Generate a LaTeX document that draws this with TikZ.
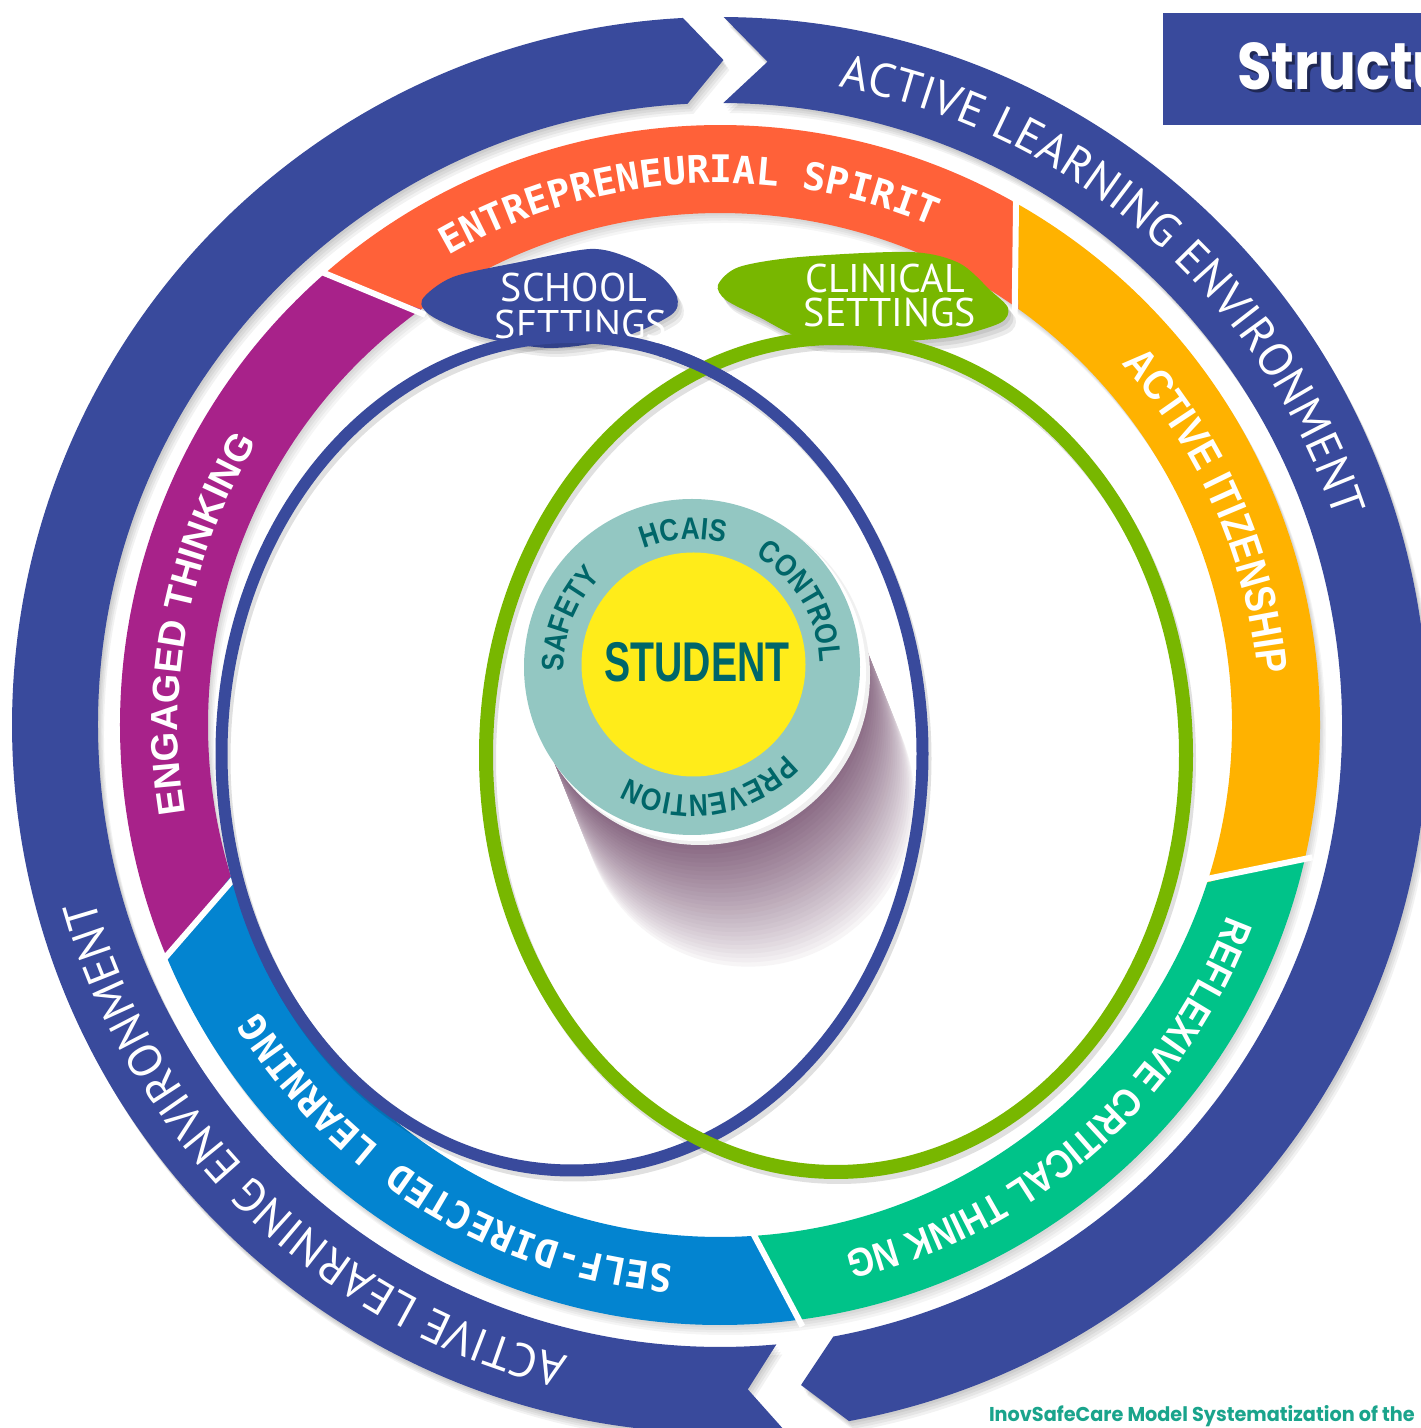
\documentclass[tikz,border=0pt]{standalone}
\usepackage{fontspec}
\setmainfont{PT Sans}
\newfontfamily\ptsans{PT Sans}
\newfontfamily\monob{DejaVu Sans Mono}
\newfontfamily\libsans{Liberation Sans}
\newfontfamily\condb{Liberation Sans}[FakeStretch=0.85]
\newfontfamily\popp{Poppins}
\usetikzlibrary{decorations.text}

\definecolor{ringblue}{HTML}{394A9C}
\definecolor{segorange}{HTML}{FF6139}
\definecolor{segmagenta}{HTML}{A8228A}
\definecolor{segamber}{HTML}{FFB200}
\definecolor{segteal}{HTML}{00C389}
\definecolor{segblue}{HTML}{0384D0}
\definecolor{elgreen}{HTML}{78B700}
\definecolor{diskteal}{HTML}{93C7C2}
\definecolor{diskyellow}{HTML}{FFEC1A}
\definecolor{darkteal}{HTML}{006669}
\definecolor{shadowpurple}{HTML}{6A4263}
\definecolor{footgreen}{HTML}{1AA48C}

\newcommand\LeftPiece{(275.2:708) arc[start angle=275.2,end angle=93,radius=708] -- (89.7:665) -- (93:622) arc[start angle=93,end angle=275.2,radius=622] -- (272.4:665) -- cycle}
\newcommand\RightPiece{(89.7:708) arc[start angle=89.7,end angle=-79.5,radius=708] -- (-83:665) -- (-79.5:622) arc[start angle=-79.5,end angle=89.7,radius=622] -- (85.9:665) -- cycle}
\newcommand\SegPath[4]{(#1:512) -- (#2:600) arc[start angle=#2,end angle=#4,radius=600] -- (#3:512) arc[start angle=#3,end angle=#1,radius=512] -- cycle}
\newcommand\SchoolBlob{plot[smooth cycle] coordinates {(-298,425) (-267,448) (-200,463) (-130,476) (-93,468) (-60,450) (-43,428) (-49,410) (-100,387) (-170,377) (-238,388) (-287,408)}}
\newcommand\ClinicalBlob{plot[smooth cycle] coordinates {(-2,440) (19,458) (80,468) (190,473) (239,462) (270,435) (288,417) (280,402) (231,388) (160,383) (88,385) (39,408) (6,425)}}
\newcommand\BlueEllipse{(-148,-28.75) ellipse[x radius=350.5, y radius=416.75]}
\newcommand\GreenEllipse{(116,-30) ellipse[x radius=350, y radius=417]}

\tikzset{
  ringlabel/.style={decorate, decoration={text along path, text align=center, text color=white, text={#1}}},
  disklabel/.style={decorate, decoration={text along path, text align=center, text color=darkteal, text={#1}}},
  plain/.style={inner sep=0pt, outer sep=0pt},
  softshadow/.style={black, opacity=0.05},
}

\begin{document}
\begin{tikzpicture}[x=1pt,y=1pt]
\useasboundingbox (0,0) rectangle (1421,1428);
\clip (0,0) rectangle (1421,1428);
\fill[white] (0,0) rectangle (1421,1428);

\begin{scope}[shift={(720,703)}]
  % ---- outer blue ring (two clockwise arrows) ----
  \foreach \s in {1,2,3,4}{
    \fill[softshadow, shift={(1.5*\s,-2.5*\s)}] \LeftPiece;
    \fill[softshadow, shift={(1.5*\s,-2.5*\s)}] \RightPiece;
  }
  \fill[ringblue] \LeftPiece;
  \fill[ringblue] \RightPiece;

  % ---- coloured ring ----
  \foreach \s in {1,2,3,4}
    \fill[black, opacity=0.04, even odd rule, shift={(1.5*\s,-2.5*\s)}] (0,0) circle[radius=600] (0,0) circle[radius=512];
  \fill[segorange]  \SegPath{54.3}{60.8}{125.7}{131.5};
  \fill[segmagenta] \SegPath{125.7}{131.5}{197.2}{203};
  \fill[segblue]    \SegPath{197.2}{203}{273.5}{277.8};
  \fill[segteal]    \SegPath{273.5}{277.8}{342.1}{347.4};
  \fill[segamber]   \SegPath{342.1}{347.4}{414.3}{420.8};
  \foreach \a/\b in {54.3/60.8, 125.7/131.5, 197.2/203, 273.5/277.8, 342.1/347.4}
    \draw[white, line width=6] (\a:505) -- (\b:607);

  % ---- ring labels ----
  \path[ringlabel={|\ptsans\fontsize{47}{47}\selectfont|ACTIVE LEARNING ENVIRONMENT}] (99:649) arc[start angle=99,end angle=-1,radius=649];
  \path[ringlabel={|\ptsans\fontsize{47}{47}\selectfont|ACTIVE LEARNING ENVIRONMENT}] (276:649) arc[start angle=276,end angle=176,radius=649];
  \path[ringlabel={|\monob\bfseries\fontsize{38}{38}\selectfont|ENTREPRENEURIAL SPIRIT}] (138.5:542) arc[start angle=138.5,end angle=48.5,radius=542];
  \path[ringlabel={|\libsans\bfseries\fontsize{38}{38}\selectfont|ENGAGED THINKING}] (214:542) arc[start angle=214,end angle=124,radius=542];
  \path[ringlabel={|\condb\bfseries\fontsize{43}{43}\selectfont|ACTIVE ITIZENSHIP}] (68.7:540) arc[start angle=68.7,end angle=-21.3,radius=540];
  \path[ringlabel={|\condb\bfseries\fontsize{40}{40}\selectfont|REFLEXIVE CRITICAL THINK NG}] (-3.6:542) arc[start angle=-3.6,end angle=-93.6,radius=542];
  \path[ringlabel={|\monob\bfseries\fontsize{38}{38}\selectfont|SELF-DIRECTED LEARNING}] (283.5:542) arc[start angle=283.5,end angle=193.5,radius=542];

  % ---- settings blobs ----
  \foreach \s in {1,2,3}{
    \fill[black, opacity=0.07, shift={(2*\s,-3*\s)}] \SchoolBlob;
    \fill[black, opacity=0.08, shift={(2.5*\s,-3.5*\s)}] \ClinicalBlob;
  }
  \fill[ringblue] \SchoolBlob;
  \fill[elgreen] \ClinicalBlob;
  \node[plain, text=white, font=\ptsans\fontsize{40}{40}\selectfont] (school1) at (-146,437) {SCHOOL};
  \node[plain, text=white, font=\ptsans\fontsize{40}{40}\selectfont] (school2) at (-139,400) {SETTINGS};
  \node[plain, text=white, font=\ptsans\fontsize{40}{40}\selectfont] (clin1) at (165,446) {CLINICAL};
  \node[plain, text=white, font=\ptsans\fontsize{40}{40}\selectfont] (clin2) at (170,412) {SETTINGS};

  % ---- disk shadow (purple sweep) ----
  \begin{scope}[shift={(-28,58)}]
    \foreach \i in {30,29,...,0}{
      \pgfmathsetmacro\t{\i/30}
      \pgfmathsetmacro\c{82*(1-\t)^0.8}
      \fill[shadowpurple!\c!white] ({6+52*\t},{-8-130*\t}) circle[radius=166];
    }
  \end{scope}

  % ---- two settings ellipses ----
  \draw[black, opacity=0.12, line width=12, shift={(3,-5)}] \BlueEllipse;
  \draw[black, opacity=0.12, line width=14, shift={(3,-5)}] \GreenEllipse;
  \draw[ringblue, line width=12] \BlueEllipse;
  \draw[elgreen, line width=14] \GreenEllipse;
  \begin{scope}
    \clip (-62,322) rectangle (12,392);
    \draw[ringblue, line width=12] \BlueEllipse;
  \end{scope}

  % ---- central disk ----
  \begin{scope}[shift={(-28,58)}]
    \fill[gray!12] (8,-8) circle[radius=170];
    \fill[white] (5,-5) circle[radius=169];
    \fill[diskteal] (0,0) circle[radius=168];
    \fill[diskyellow] (1.5,2.5) circle[radius=112];
    \path[disklabel={|\condb\bfseries\fontsize{31}{31}\selectfont|HCAIS}] (140:128) arc[start angle=140,end angle=47.4,radius=128];
    \path[disklabel={|\condb\bfseries\fontsize{31}{31}\selectfont|CONTROL}] (80:128) arc[start angle=80,end angle=-18,radius=128];
    \path[disklabel={|\condb\bfseries\fontsize{31}{31}\selectfont|SAFETY}] (205:128) arc[start angle=205,end angle=112.4,radius=128];
    \path[disklabel={|\condb\bfseries\fontsize{31}{31}\selectfont|PREVENTION}] (-20:128) arc[start angle=-20,end angle=-143,radius=128];
    \node[plain, text=darkteal] (student) at (5,5) {\scalebox{0.7}[1]{\libsans\bfseries\fontsize{56}{56}\selectfont STUDENT}};
  \end{scope}
\end{scope}

% ---- title box and footer ----
\fill[ringblue] (1163,1303) rectangle (1430,1415);
\node[plain, anchor=base west, text=black, opacity=0.45] (titleshadow) at (1240,1335) {\scalebox{0.85}[1]{\popp\bfseries\fontsize{66}{66}\selectfont Structu}};
\node[plain, anchor=base west, text=white] (title) at (1237,1338) {\scalebox{0.85}[1]{\popp\bfseries\fontsize{66}{66}\selectfont Structu}};
\node[plain, anchor=base west, text=footgreen] (footer) at (989,6) {\scalebox{0.962}[1]{\popp\bfseries\fontsize{20}{20}\selectfont InovSafeCare Model Systematization of the}};
\end{tikzpicture}
\end{document}
